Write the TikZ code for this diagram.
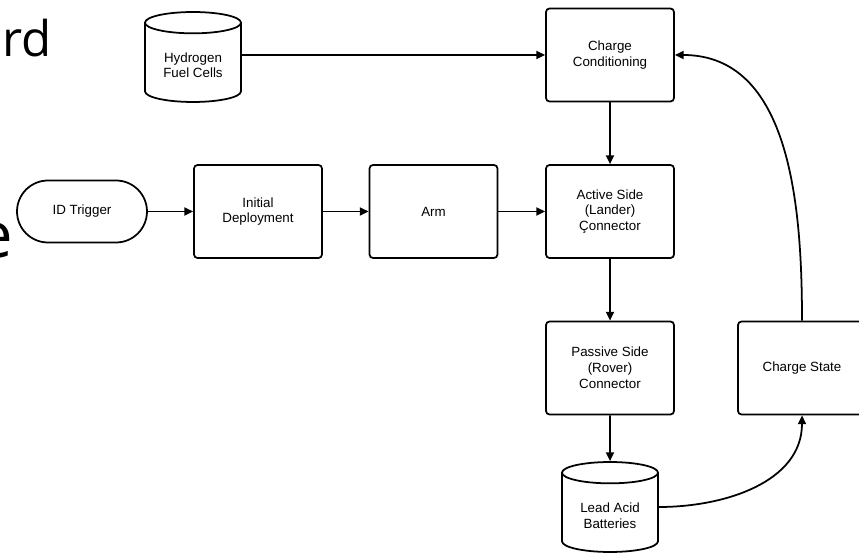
\documentclass[tikz,border=0pt]{standalone}
\usepackage{fontspec}
\setmainfont{Liberation Sans}
\newfontfamily\slidefont{Open Sans}
\usetikzlibrary{arrows.meta,shapes.geometric}
\usetikzlibrary{positioning}

\tikzset{
  block/.style={rectangle,rounded corners=2pt,draw=black,line width=1pt,minimum width=2.56cm,minimum height=1.86cm,align=center,font=\fontsize{7.6}{9}\selectfont},
  terminal/.style={block,rounded corners=0.62cm,minimum width=2.6cm,minimum height=1.24cm},
  store/.style={cylinder,shape border rotate=90,aspect=0.3,anchor=shape center,draw=black,line width=1pt,minimum width=1.92cm,minimum height=1.8cm,align=center,font=\fontsize{7.6}{9}\selectfont},
  flow/.style={-{Triangle[length=5pt,width=4.6pt]},line width=1pt}
}

\begin{document}
\begin{tikzpicture}[x=0.02cm,y=-0.02cm]
\useasboundingbox (0,0) rectangle (859,553);
\node at (52,57)[anchor=base east,inner sep=0pt,font=\slidefont\fontsize{28}{28}\selectfont](fragrd){rd};
\node at (13,258)[anchor=base east,inner sep=0pt,font=\slidefont\fontsize{36}{36}\selectfont](frage){e};
\node at (193,57)[store](hfc){Hydrogen\\Fuel Cells};
\node at (610,55)[block](cc){Charge\\Conditioning};
\node at (82,211.5)[terminal](idt){ID Trigger};
\node at (258,211.5)[block](idep){Initial\\Deployment};
\node at (433.5,211.5)[block](arm){Arm};
\node at (610,211.5)[block](asc){Active Side\\(Lander)\\Çonnector};
\node at (610,368)[block](psc){Passive Side\\(Rover)\\Connector};
\node at (802,368)[block](cs){Charge State};
\node at (610,507)[store](lab){Lead Acid\\Batteries};
\draw[flow](hfc.east |- cc.west)--(cc.west);
\draw[flow](idt)--(idep);
\draw[flow](idep)--(arm);
\draw[flow](arm)--(asc);
\draw[flow](cc)--(asc);
\draw[flow](asc)--(psc);
\draw[flow](psc)--(lab);
\draw[flow](lab.shape center -| lab.east) to[out=0,in=-90] (cs.south);
\draw[flow](cs.north) to[out=90,in=0] (cc.east);
\end{tikzpicture}
\end{document}
